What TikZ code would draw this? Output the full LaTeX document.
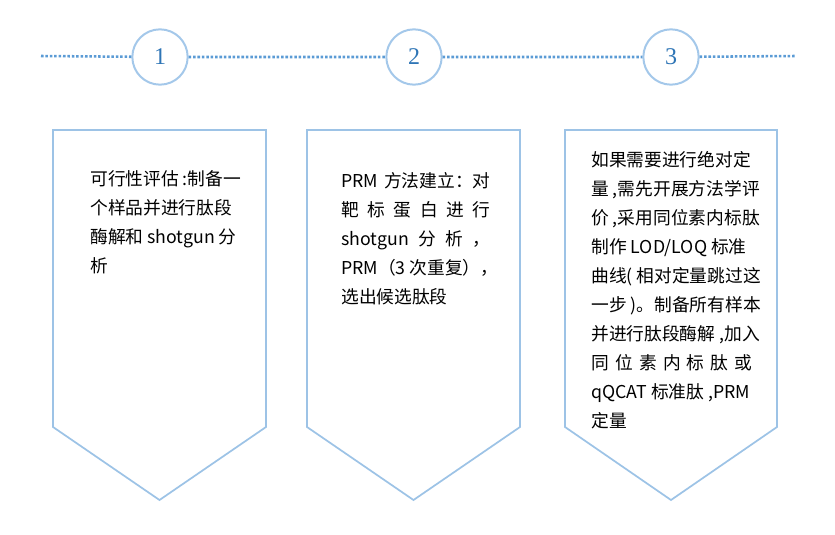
\documentclass[tikz,border=0pt]{standalone}
\usepackage{fontspec}
\setmainfont{Noto Sans CJK SC}
\newfontfamily\numfont{Liberation Serif}
\definecolor{ringblue}{HTML}{A4C8EA}
\definecolor{boxblue}{HTML}{9DC3E6}
\definecolor{dotblue}{HTML}{5B9BD5}
\definecolor{numblue}{HTML}{2E75B6}
\newcommand{\spreadline}[2]{\makebox[#1][s]{#2}}
\tikzset{
    ring/.style={circle, draw=ringblue, line width=1.5pt, minimum size=41.5pt, inner sep=0pt, fill=white, font=\numfont\fontsize{18}{18}\selectfont, text=numblue},
    steptext/.style={anchor=north west, inner sep=0pt, align=left, font=\fontsize{13.3}{21.8}\selectfont},
    stepbox/.style={draw=boxblue, line width=1.3pt, line join=miter},
    dotline/.style={dotblue, line width=1.9pt, dash pattern=on 1.9pt off 1.4pt}
}
\begin{document}
\begin{tikzpicture}[x=0.75pt, y=-0.75pt]
    \useasboundingbox (0,0) rectangle (835,535);
    % Draw timeline
    \coordinate (tl) at (41, 56);
    \coordinate (tr) at (795, 56);
    \node [ring] (c1) at (160, 57) {1};
    \node [ring] (c2) at (414, 57) {2};
    \node [ring] (c3) at (671, 57) {3};
    \draw [dotline] (tl) -- (c1) (c1) -- (c2) (c2) -- (c3) (c3) -- (tr);
    % Draw boxes
    \foreach \l/\r in {53/266, 307/520, 565/777} {
        \draw [stepbox] (\l, 130) -- (\r, 130) -- (\r, 427) -- ({(\l+\r)/2}, 500) -- (\l, 427) -- cycle;
    }
    \node [steptext] (t1) at (90, 170) {%
        可行性评估 :制备一\\
        个样品并进行肽段\\
        酶解和 shotgun 分\\
        析};
    \node [steptext] (t2) at (341, 172) {%
        \spreadline{112pt}{PRM 方法建立：对}\\
        \spreadline{112pt}{靶 标 蛋 白 进 行}\\
        \spreadline{112pt}{shotgun 分 析 ，}\\
        PRM（3 次重复），\\
        选出候选肽段};
    \node [steptext] (t3) at (591, 151) {%
        如果需要进行绝对定\\
        量 ,需先开展方法学评\\
        价 ,采用同位素内标肽\\
        制作 LOD/LOQ 标准\\
        曲线( 相对定量跳过这\\
        一步 )。制备所有样本\\
        并进行肽段酶解 ,加入\\
        \spreadline{121pt}{同 位 素 内 标 肽 或}\\
        qQCAT 标准肽 ,PRM\\
        定量};
\end{tikzpicture}
\end{document}
